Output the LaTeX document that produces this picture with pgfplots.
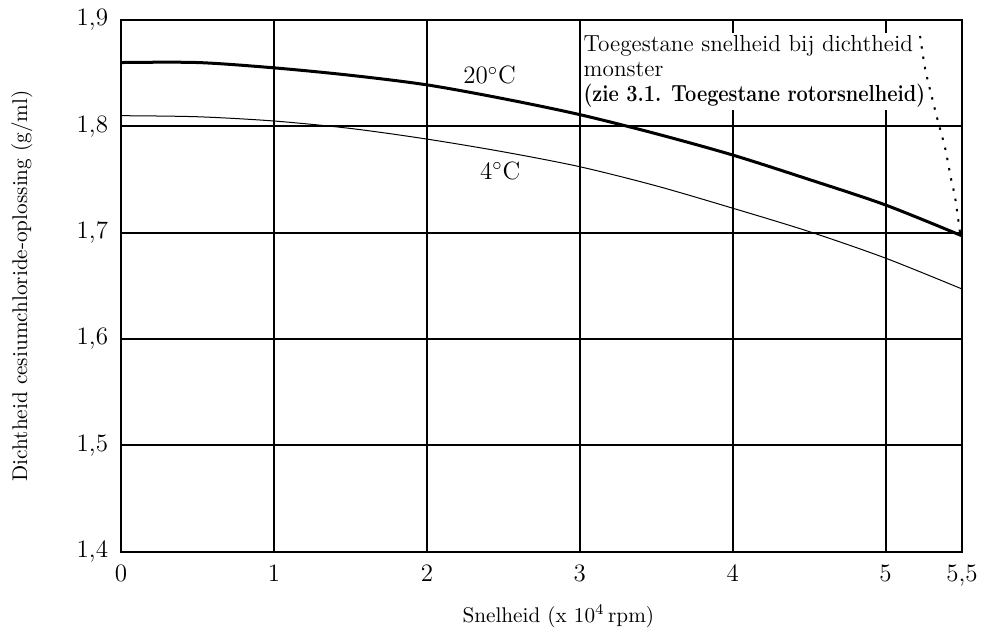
\documentclass[border=0pt]{standalone}
\usepackage{graphicx}
\usepackage{pgfplots}
\pgfplotsset{compat=1.18}
\begin{document}
\begin{tikzpicture}
\begin{axis}[
  scale only axis,
  width=420pt, height=265.5pt,
  xmin=0, xmax=5.5, ymin=1.4, ymax=1.9,
  xtick={0,1,2,3,4,5,5.5},
  xticklabels={0,1,2,3,4,5,{5,5}},
  ytick={1.4,1.5,1.6,1.7,1.8,1.9},
  yticklabels={{1,4},{1,5},{1,6},{1,7},{1,8},{1,9}},
  major tick length=0pt,
  grid=major,
  major grid style={black, line width=1pt},
  axis line style={black, line width=1pt},
  tick label style={font=\fontsize{12.5}{14}\selectfont},
  yticklabel style={xshift=-3pt},
  xticklabel style={yshift=-3pt},
  xlabel={Snelheid (x 10\textsuperscript{4}\,rpm)},
  ylabel={Dichtheid cesiumchloride-oplossing (g/ml)},
  label style={font=\fontsize{10.6}{12}\selectfont},
  xlabel style={at={(axis description cs:0.52,-0.1224)}, anchor=center},
  ylabel style={at={(axis description cs:-0.118,0.5)}, anchor=center},
  clip=false,
]
\addplot[black, line width=1.5pt, smooth] coordinates {
 (0,1.860) (0.5,1.860) (1,1.855) (1.5,1.848) (2,1.839) (2.5,1.826)
 (3,1.811) (3.5,1.793) (4,1.773) (4.5,1.750) (5,1.726) (5.5,1.697)};
\addplot[black, line width=0.5pt, smooth] coordinates {
 (0,1.810) (0.5,1.809) (1,1.805) (1.5,1.798) (2,1.788) (2.5,1.776)
 (3,1.762) (3.5,1.744) (4,1.723) (4.5,1.701) (5,1.676) (5.5,1.647)};
\node[fill=white, inner sep=1pt, anchor=north west, align=left,
      font=\fontsize{11.6}{12.6}\selectfont]
  at (axis cs:3.01,1.888)
  {Toegestane snelheid bij dichtheid\\monster\\\scalebox{0.86}[1]{\textbf{(zie 3.1. Toegestane rotorsnelheid)}}};
\addplot[black, line width=1pt, dash pattern=on 1.2pt off 4pt, smooth] coordinates {
 (5.226,1.885) (5.258,1.855) (5.304,1.827) (5.337,1.808) (5.389,1.780)
 (5.428,1.751) (5.455,1.733) (5.487,1.700)};
\node[font=\fontsize{12.5}{14}\selectfont] at (axis cs:2.41,1.848) {20$^{\circ}$C};
\node[font=\fontsize{12.5}{14}\selectfont] at (axis cs:2.48,1.758) {4$^{\circ}$C};
\end{axis}
\pgfresetboundingbox
\path ([xshift=-60.5pt,yshift=-41.5pt]current axis.south west) rectangle ([xshift=11.5pt,yshift=10pt]current axis.north east);
\end{tikzpicture}
\end{document}
